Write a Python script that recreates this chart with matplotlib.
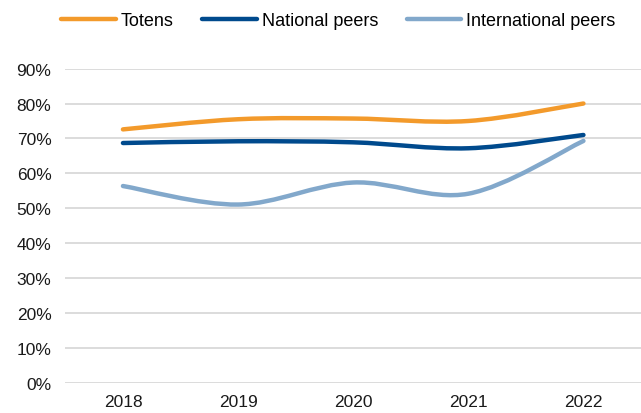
import matplotlib.pyplot as plt
from matplotlib.path import Path
from matplotlib.patches import PathPatch
from matplotlib.lines import Line2D
from matplotlib.ticker import PercentFormatter

plt.rcParams['font.family'] = ['Liberation Sans', 'DejaVu Sans']

years = ['2018', '2019', '2020', '2021', '2022']
totens = [0.726, 0.755, 0.757, 0.750, 0.800]
national = [0.687, 0.692, 0.689, 0.672, 0.710]
international = [0.564, 0.511, 0.574, 0.542, 0.693]

series = [
    ('Totens', totens, '#F39A2B'),
    ('National peers', national, '#004A8D'),
    ('International peers', international, '#82A8CB'),
]


def smooth_path(xs, ys):
    # Excel style smoothed line: cubic bezier with catmull-rom control points
    verts = [(xs[0], ys[0])]
    codes = [Path.MOVETO]
    n = len(xs)
    for i in range(n - 1):
        x0, y0 = xs[max(i - 1, 0)], ys[max(i - 1, 0)]
        x1, y1 = xs[i], ys[i]
        x2, y2 = xs[i + 1], ys[i + 1]
        x3, y3 = xs[min(i + 2, n - 1)], ys[min(i + 2, n - 1)]
        c1 = (x1 + (x2 - x0) / 6, y1 + (y2 - y0) / 6)
        c2 = (x2 - (x3 - x1) / 6, y2 - (y3 - y1) / 6)
        verts += [c1, c2, (x2, y2)]
        codes += [Path.CURVE4] * 3
    return Path(verts, codes)


fig = plt.figure(figsize=(6.41, 4.14), dpi=100)
ax = fig.add_axes([0.102, 0.072, 0.898, 0.760])

xs = list(range(len(years)))
handles = []
for name, vals, col in series:
    patch = PathPatch(smooth_path(xs, vals), facecolor='none', edgecolor=col,
                      lw=3.2, capstyle='round', joinstyle='round', zorder=3)
    ax.add_patch(patch)
    handles.append(Line2D([], [], color=col, lw=3.2, solid_capstyle='round', label=name))

ax.set_xlim(-0.5, len(years) - 0.5)
ax.set_ylim(0, 0.9)
ax.set_yticks([i / 10 for i in range(10)])
ax.yaxis.set_major_formatter(PercentFormatter(1.0, decimals=0))
ax.set_xticks(xs)
ax.set_xticklabels(years)
ax.grid(axis='y', color='#D9D9D9', lw=1.3)
ax.set_axisbelow(True)
for s in ax.spines.values():
    s.set_visible(False)
ax.tick_params(length=0, labelsize=12.5, colors='#1a1a1a')
ax.tick_params(axis='x', pad=8)
ax.tick_params(axis='y', pad=10)

fig.legend(handles=handles, loc='center', bbox_to_anchor=(0.528, 0.947),
           ncol=3, frameon=False, fontsize=13, handlelength=3.0,
           handletextpad=0.28, columnspacing=1.6)

fig.savefig('out.png', dpi=100)
